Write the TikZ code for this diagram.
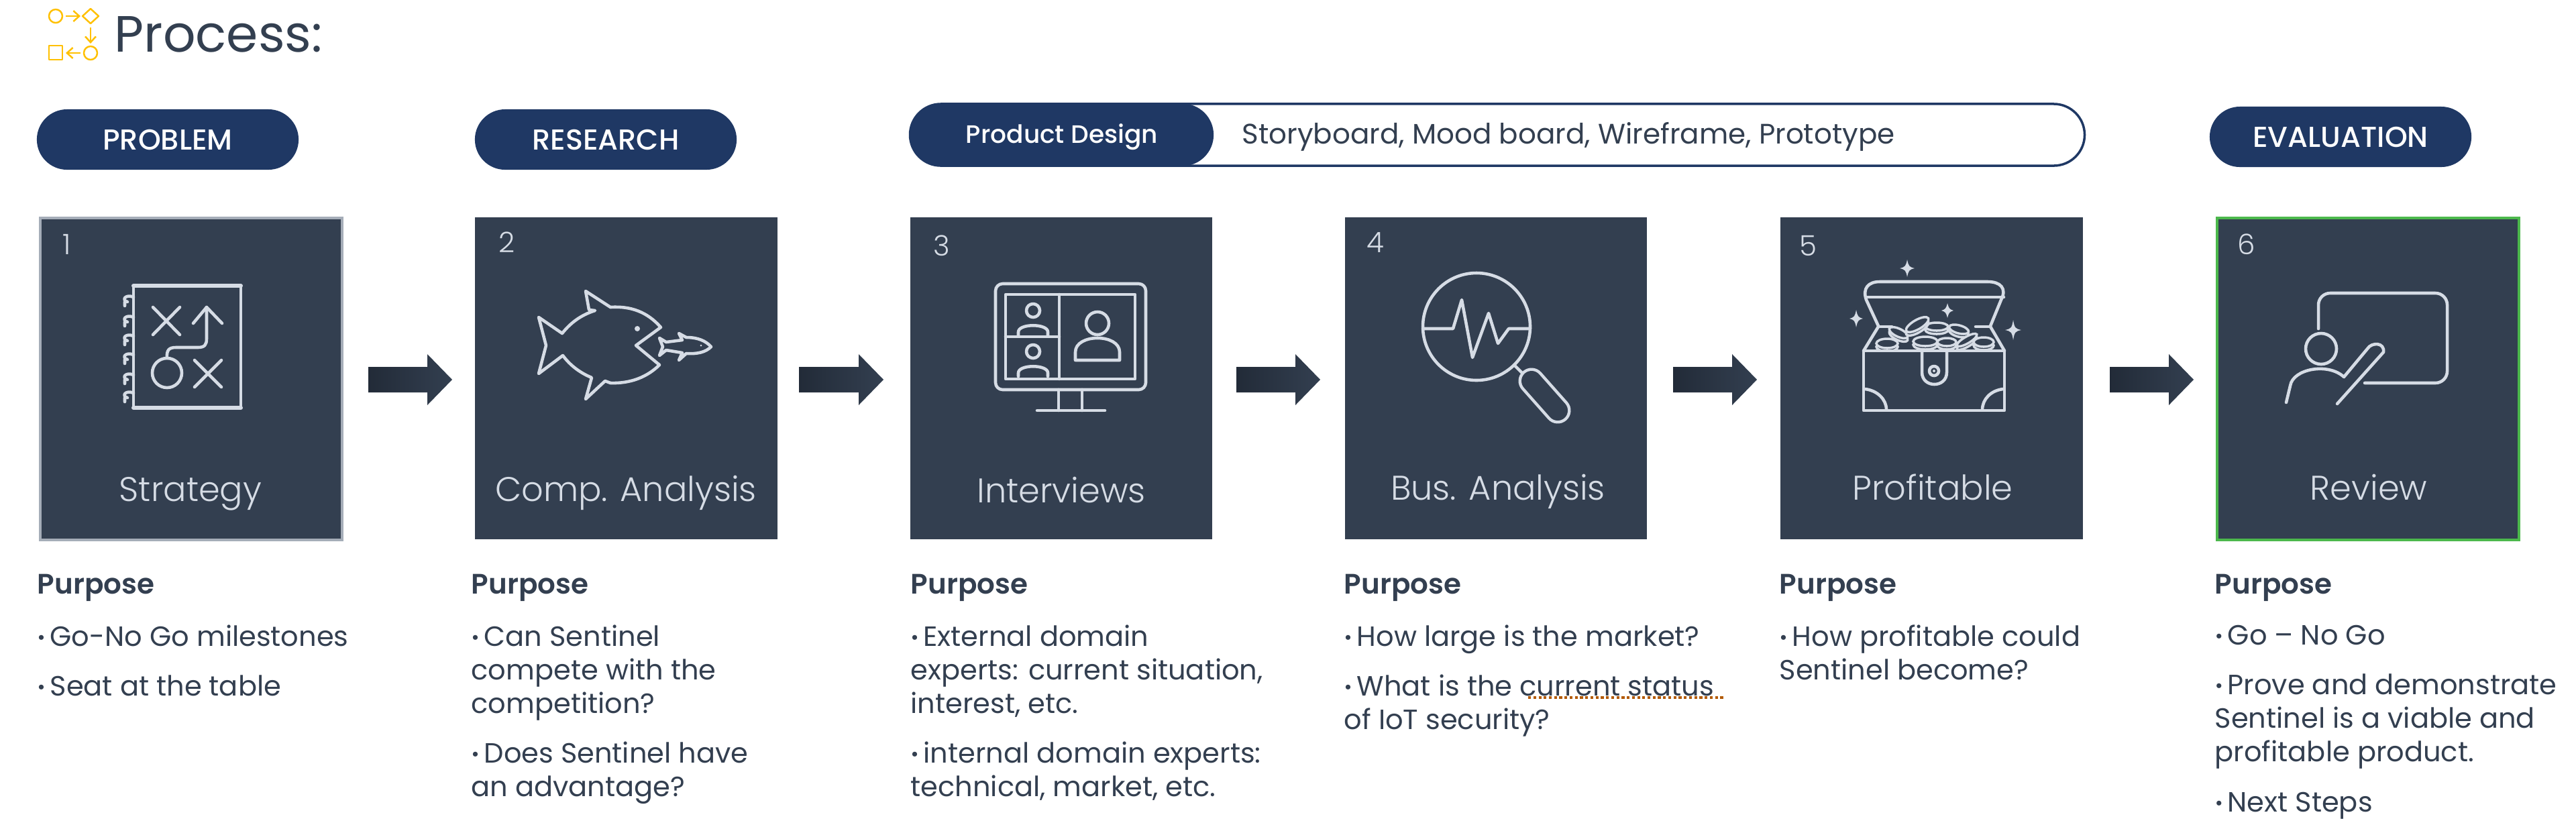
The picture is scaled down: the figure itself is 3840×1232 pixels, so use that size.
\documentclass[tikz,border=0pt]{standalone}
\usepackage{fontspec}
\setmainfont{Poppins}
\newfontfamily\lightfont{Poppins Light}
\newfontfamily\mediumfont{Poppins Medium}
\newfontfamily\semifont{Poppins SemiBold}
\usetikzlibrary{calc,shapes.misc,arrows.meta}
\definecolor{boxcol}{HTML}{333F50}
\definecolor{pillcol}{HTML}{1F3864}
\definecolor{iconcol}{HTML}{D6DCE5}
\definecolor{arrowcol}{HTML}{222B38}
\definecolor{goldcol}{HTML}{FFC000}
\tikzset{
  stepbox/.style={fill=boxcol, minimum width=4.5cm, minimum height=4.8cm, inner sep=0pt},
  pill/.style={rounded rectangle, fill=pillcol, text=white, minimum height=0.9cm, inner sep=0pt, font=\mediumfont\fontsize{0.43cm}{0.5cm}\selectfont},
  stepnum/.style={anchor=base, text=iconcol, inner sep=0pt, font=\lightfont\fontsize{0.42cm}{0.5cm}\selectfont},
  caption/.style={anchor=base, text=iconcol, inner sep=0pt, font=\lightfont\fontsize{0.51cm}{0.6cm}\selectfont},
  purposehead/.style={anchor=base west, text=boxcol, inner sep=0pt, font=\semifont\fontsize{0.42cm}{0.5cm}\selectfont},
  purposetext/.style={anchor=north west, align=left, text=boxcol, inner sep=0pt, font=\fontsize{0.415cm}{0.5cm}\selectfont},
  iconline/.style={draw=iconcol, line width=1.3pt, line join=round, line cap=round},
  coinline/.style={draw=iconcol, line width=1pt, fill=boxcol},
  goldline/.style={draw=goldcol, line width=0.7pt, line join=round},
  goldarrow/.style={goldline, -{Straight Barb[length=2.5pt,width=4.5pt]}},
}
% small list dot
\newcommand{\bul}{\raisebox{0.03cm}{\fontsize{0.29cm}{0.3cm}\selectfont•}\hspace{0.07cm}}
% block arrow from a tail point to a tip point
\newcommand{\blockarrow}[2]{
  \shade[left color=arrowcol, middle color=boxcol, right color=boxcol]
    ($(#1)+(0,-19)$) -- ($(#2)+(-37,-19)$) -- ($(#2)+(-37,-38)$) -- (#2)
    -- ($(#2)+(-37,38)$) -- ($(#2)+(-37,19)$) -- ($(#1)+(0,19)$) -- cycle;
}
% four pointed sparkle
\newcommand{\sparkle}[4]{
  \fill[iconcol] (#1,#2-#4) .. controls (#1+2,#2-3) and (#1+3,#2-2) .. (#1+#3,#2)
    .. controls (#1+3,#2+2) and (#1+2,#2+3) .. (#1,#2+#4)
    .. controls (#1-2,#2+3) and (#1-3,#2+2) .. (#1-#3,#2)
    .. controls (#1-3,#2-2) and (#1-2,#2-3) .. (#1,#2-#4);
}
\begin{document}
\begin{tikzpicture}[x=0.01cm, y=-0.01cm]
  \useasboundingbox (0,0) rectangle (3840,1232);

  % title
  \node[anchor=base west, inner sep=0pt, text=boxcol, font=\fontsize{0.76cm}{0.8cm}\selectfont] (title) at (170,77) {Process:};
  \draw[goldline] (83,24) circle (10);
  \draw[goldline] (135,13) -- (147,24) -- (135,35) -- (123,24) -- cycle;
  \draw[goldline] (135,79) circle (10);
  \draw[goldline] (73,68) rectangle (93,89);
  \draw[goldarrow] (98,24) -- (120,24);
  \draw[goldarrow] (135,41) -- (135,65);
  \draw[goldarrow] (120,79) -- (98,79);

  % phase pills
  \node[pill, minimum width=3.9cm] (problem) at (250,208) {PROBLEM};
  \node[pill, minimum width=3.9cm] (research) at (903,208) {RESEARCH};
  \node[rounded rectangle, draw=pillcol, line width=1pt, minimum width=17.5cm, minimum height=0.92cm, inner sep=0pt] (tools) at (2232,201) {};
  \node[pill, minimum width=4.52cm, minimum height=0.93cm, text depth=0.03cm, font=\mediumfont\fontsize{0.375cm}{0.5cm}\selectfont] (design) at (1583,201) {Product Design};
  \node[anchor=west, inner sep=0pt, text=boxcol, font=\fontsize{0.42cm}{0.5cm}\selectfont] (toollist) at (1851,204) {Storyboard, Mood board, Wireframe, Prototype};
  \node[pill, minimum width=3.9cm] (evaluation) at (3489,204) {EVALUATION};

  % step boxes
  \node[stepbox, draw=iconcol!70!boxcol, line width=1pt] (box1) at (285,565) {};
  \node[stepbox] (box2) at (933.5,564) {};
  \node[stepbox] (box3) at (1582,564) {};
  \node[stepbox] (box4) at (2230,564) {};
  \node[stepbox] (box5) at (2879.5,564) {};
  \node[stepbox, draw=green!60!black!70!white, line width=1.2pt] (box6) at (3530,565) {};

  \node[stepnum] (num1) at (100,379) {1};
  \node[stepnum] (num2) at (756,376) {2};
  \node[stepnum] (num3) at (1404,381) {3};
  \node[stepnum] (num4) at (2050,376) {4};
  \node[stepnum] (num5) at (2695,381) {5};
  \node[stepnum] (num6) at (3349,379) {6};

  \node[caption] (cap1) at (284,747) {Strategy};
  \node[caption] (cap2) at (933,747) {Comp. Analysis};
  \node[caption] (cap3) at (1582,749) {Interviews};
  \node[caption] (cap4) at (2233,745) {Bus. Analysis};
  \node[caption] (cap5) at (2881,745) {Profitable};
  \node[caption] (cap6) at (3531,745) {Review};

  % arrows between boxes
  \coordinate (tail1) at (549,566);
  \coordinate (tip1) at (674,566);
  \coordinate (tail2) at (1191,566);
  \coordinate (tip2) at (1317,566);
  \coordinate (tail3) at (1843,566);
  \coordinate (tip3) at (1968,566);
  \coordinate (tail4) at (2494,566);
  \coordinate (tip4) at (2619,566);
  \coordinate (tail5) at (3145,566);
  \coordinate (tip5) at (3270,566);
  \foreach \i in {1,...,5} {
    \blockarrow{tail\i}{tip\i}
  }

  % icon 1, play sheet
  \draw[iconline] (199,426) rectangle (359,608);
  \draw[iconline, line width=1.7pt] (199,426) -- (359,426) (199,608) -- (359,608);
  \foreach \y in {447,477,505,533,563,590}
    \draw[iconline] (199,\y-4) .. controls (188,\y-9) and (180,\y) .. (190,\y+3) (186,\y+3) -- (186,\y+9);
  \draw[iconline] (228,458) -- (268,499) (268,458) -- (228,499);
  \draw[iconline] (290,537) -- (330,577) (330,537) -- (290,577);
  \draw[iconline] (249,556) circle (22);
  \draw[iconline] (249,534) .. controls (248,522) and (252,518) .. (262,518) -- (295,518)
    .. controls (305,518) and (308,514) .. (308,505) -- (308,458);
  \draw[iconline] (288,482) -- (308,458) -- (331,482);

  % icon 2, big and small fish
  \draw[iconline] (803,473) -- (838,497) .. controls (850,482) and (865,470) .. (887,463) -- (878,462)
    -- (873,434) -- (910,458) .. controls (940,456) and (965,465) .. (985,488) -- (948,515) -- (983,544)
    .. controls (965,562) and (940,572) .. (910,571) -- (902,568) -- (873,595) -- (882,563)
    .. controls (865,556) and (850,545) .. (839,530) -- (803,557) -- (814,515) -- cycle;
  \fill[iconcol] (950,490) circle (4);
  \draw[iconline] (983,504) -- (993,510) -- (1017,507) -- (1012,497) -- (1023,503)
    .. controls (1040,503) and (1052,508) .. (1060,517) .. controls (1052,525) and (1040,528) .. (1023,527)
    -- (1012,537) -- (1017,526) -- (993,522) -- (983,530) -- (988,517) -- cycle;
  \fill[iconcol] (1045,515) circle (1.5);

  % icon 3, video call screen
  \draw[iconline, rounded corners=3pt] (1484,423) rectangle (1708,581);
  \draw[iconline] (1499,439) rectangle (1692,565);
  \draw[iconline] (1579,439) -- (1579,565) (1499,502) -- (1579,502);
  \draw[iconline] (1578,581) -- (1578,612) (1613,581) -- (1613,612) (1546,612) -- (1647,612);
  \foreach \y in {463,524} {
    \draw[iconline] (1540,\y) circle (10);
    \draw[iconline] (1518,\y+37) -- (1518,\y+32) .. controls (1518,\y+19) and (1562,\y+19) .. (1562,\y+32) -- (1562,\y+37);
  }
  \draw[iconline] (1636,482) circle (17);
  \draw[iconline] (1603,537) -- (1603,525) .. controls (1603,497) and (1669,497) .. (1669,525) -- (1669,537) -- cycle;

  % icon 4, magnifier with pulse
  \draw[iconline] (2201,487) circle (80);
  \draw[iconline] (2121,490) -- (2166,490) -- (2179,447) -- (2195,533) -- (2219,467) -- (2233,512) -- (2249,490) -- (2281,490);
  \draw[iconline] (2258,545) -- (2270,557);
  \draw[iconcol, line cap=round, line width=0.39cm] (2283,568) -- (2322,612);
  \draw[boxcol, line cap=round, line width=0.3cm] (2283,568) -- (2322,612);

  % icon 5, treasure chest
  \foreach \cx/\cy/\rx/\ry/\rot in {2887/487/17/6/0, 2920/491/15/6/-15, 2830/496/15/6/-25, 2858/484/19/7/30, 2932/507/17/5/30, 2813/512/16/7/0, 2957/510/15/7/0, 2870/509/18/7/0, 2902/510/14/6/0} {
    \draw[coinline, rotate around={\rot:(\cx,\cy+5)}] (\cx,\cy+5) ellipse [x radius=\rx, y radius=\ry];
    \draw[coinline, rotate around={\rot:(\cx,\cy)}] (\cx,\cy) ellipse [x radius=\rx, y radius=\ry];
  }
  \draw[iconline] (2800,486) -- (2782,447) .. controls (2776,430) and (2785,420) .. (2802,420) -- (2963,420)
    .. controls (2982,420) and (2992,430) .. (2983,447) -- (2967,486);
  \draw[iconline] (2782,443) -- (2987,443);
  \draw[iconline] (2800,487) -- (2820,487) (2945,487) -- (2967,487);
  \draw[iconline] (2800,487) -- (2778,523) (2967,487) -- (2988,523);
  \draw[iconline, fill=boxcol] (2778,523) rectangle (2988,612);
  \draw[iconline] (2865,523) -- (2865,555) .. controls (2865,579) and (2902,579) .. (2902,555) -- (2902,523);
  \draw[iconline] (2883,553) circle (7);
  \fill[iconcol] (2883,553) circle (2);
  \draw[iconline] (2780,580) .. controls (2798,582) and (2812,595) .. (2812,611);
  \draw[iconline] (2986,580) .. controls (2968,582) and (2955,595) .. (2955,611);
  \sparkle{2843}{400}{11}{13}
  \sparkle{2903}{463}{9}{11}
  \sparkle{2767}{475}{10}{13}
  \sparkle{3001}{492}{12}{15}

  % icon 6, presenter at a board
  \draw[iconline, rounded corners=5pt] (3456,490) -- (3456,437) -- (3648,437) -- (3648,571) -- (3525,571);
  \draw[iconline] (3460,520) circle (23);
  \draw[iconline] (3408,600) -- (3414,575) .. controls (3418,550) and (3470,540) .. (3494,562) -- (3529,520)
    .. controls (3535,510) and (3555,510) .. (3553,525) -- (3484,602);

  % purpose columns
  \node[purposehead] (head1) at (55,885) {Purpose};
  \node[purposehead] (head2) at (702,885) {Purpose};
  \node[purposehead] (head3) at (1357,885) {Purpose};
  \node[purposehead] (head4) at (2003,885) {Purpose};
  \node[purposehead] (head5) at (2652,885) {Purpose};
  \node[purposehead] (head6) at (3301,885) {Purpose};

  \node[purposetext] (text1) at (55,931) {\bul Go-No Go milestones\\[0.24cm]\bul Seat at the table};
  \node[purposetext] (text2) at (702,931) {\bul Can Sentinel\\compete with the\\competition?\\[0.24cm]\bul Does Sentinel have\\an advantage?};
  \node[purposetext] (text3) at (1357,931) {\bul External domain\\experts: current situation,\\interest, etc.\\[0.24cm]\bul internal domain experts:\\technical, market, etc.};
  \node[purposetext] (text4) at (2003,931) {\bul How large is the market?\\[0.24cm]\bul What is the current status\\of IoT security?};
  \node[purposetext] (text5) at (2652,931) {\bul How profitable could\\Sentinel become?};
  \node[purposetext] (text6) at (3301,931) {\bul Go – No Go\\[0.24cm]\bul Prove and demonstrate\\Sentinel is a viable and\\profitable product.\\[0.25cm]\bul Next Steps};
  \draw[densely dotted, draw=orange!70!black, line width=1.2pt] (2278,1040) -- (2569,1040);
\end{tikzpicture}
\end{document}
